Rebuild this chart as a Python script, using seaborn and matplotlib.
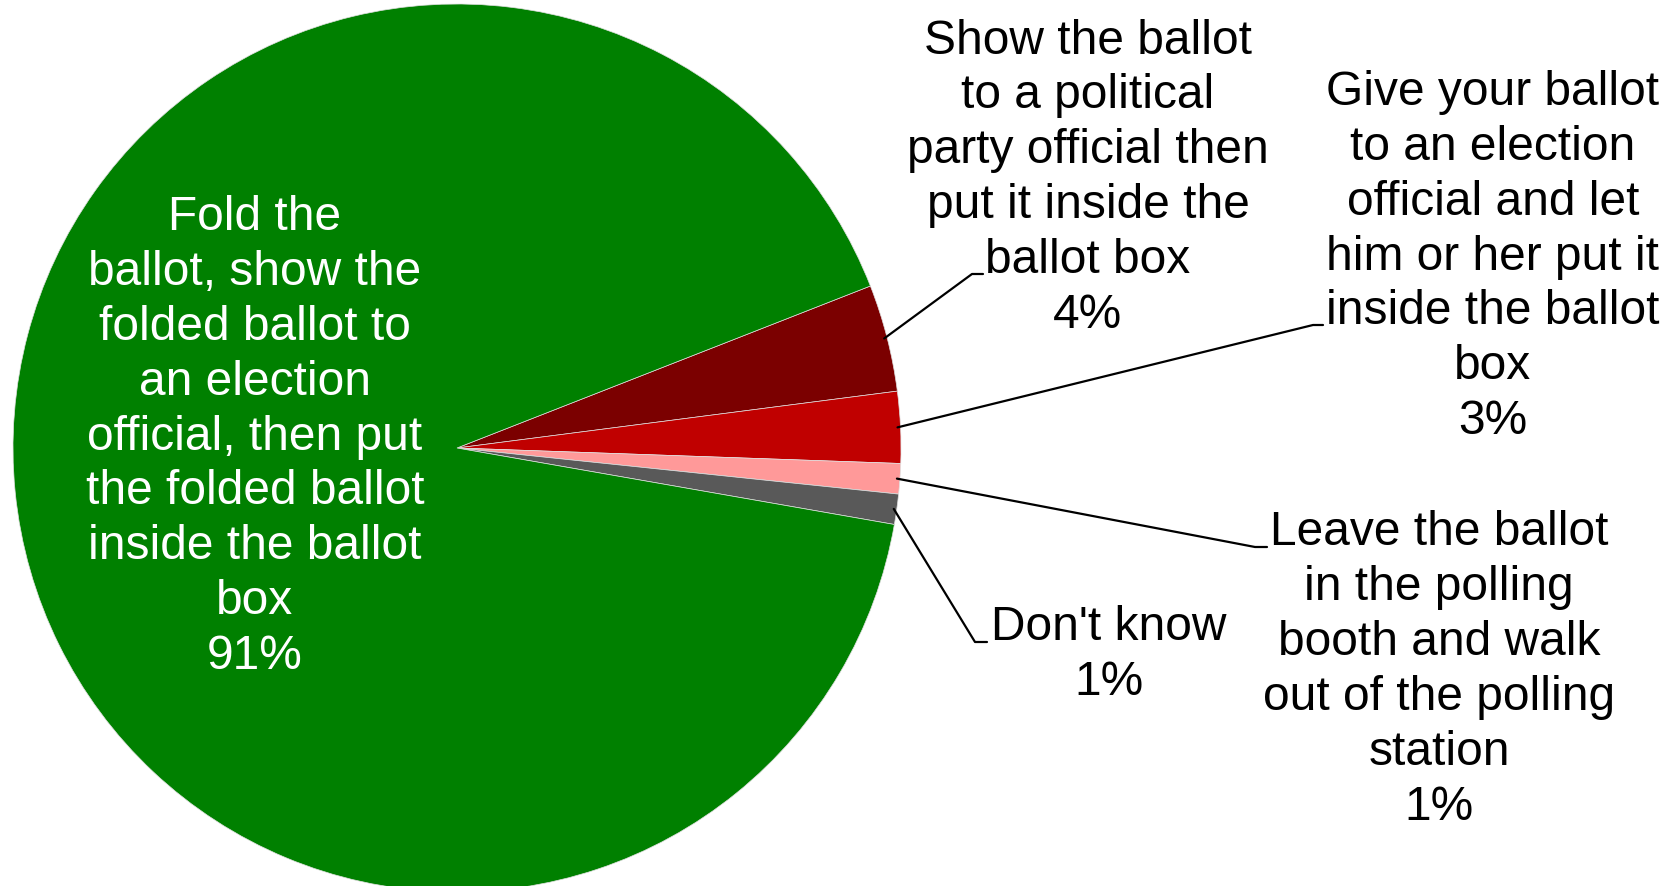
import matplotlib
matplotlib.use("Agg")
import matplotlib.pyplot as plt
import seaborn as sns
import numpy as np

# answer categories, clockwise from the top of the small slices
categories = [
    "Show the ballot\nto a political\nparty official then\nput it inside the\nballot box",
    "Give your ballot\nto an election\nofficial and let\nhim or her put it\ninside the ballot\nbox",
    "Leave the ballot\nin the polling\nbooth and walk\nout of the polling\nstation",
    "Don't know",
    "Fold the\nballot, show the\nfolded ballot to\nan election\nofficial, then put\nthe folded ballot\ninside the ballot\nbox",
]
shares = [3.9, 2.6, 1.1, 1.1, 91.3]
colors = ["#7B0000", "#C00000", "#FF9999", "#595959", "#008000"]

sns.set_theme(style="white")
plt.rcParams["font.family"] = ["Liberation Sans", "DejaVu Sans"]

W, H = 1678, 887
fig = plt.figure(figsize=(W / 100, H / 100), dpi=100)
ax = fig.add_axes([0, 0, 1, 1])

cx, cy, r = 457, H - 449, 444
wedges, _ = ax.pie(shares, colors=colors, startangle=21.4, counterclock=False,
                   center=(cx, cy), radius=r, frame=True,
                   wedgeprops=dict(edgecolor="#e0e0e0", linewidth=0.5))
ax.set_xlim(0, W)
ax.set_ylim(0, H)
ax.axis("off")

# label layout (pixel coords, y from top): text centre, elbow, elbow end
layout = [
    dict(text=(1088, 178), elbow=[(972, 275), (983, 275)]),
    dict(text=(1493, 257), elbow=[(1313, 326), (1323, 326)]),
    dict(text=(1439, 670), elbow=[(1255, 548), (1267, 548)]),
    dict(text=(1109, 655), elbow=[(975, 643), (987, 643)]),
    dict(text=(255, 437), elbow=None),
]

for w, cat, val, lay in zip(wedges, categories, shares, layout):
    label = f"{cat}\n{round(val)}%"
    tx, ty = lay["text"]
    col = "white" if lay["elbow"] is None else "black"
    ax.text(tx, H - ty, label, ha="center", va="center", multialignment="center",
            fontsize=34.5, color=col, linespacing=1.28)
    if lay["elbow"] is not None:
        mid = np.deg2rad((w.theta1 + w.theta2) / 2)
        x0 = cx + (r - 3) * np.cos(mid)
        y0 = cy + (r - 3) * np.sin(mid)
        xs = [x0] + [p[0] for p in lay["elbow"]]
        ys = [y0] + [H - p[1] for p in lay["elbow"]]
        ax.plot(xs, ys, color="black", lw=1.6)

fig.savefig("out.png", dpi=100, facecolor="white")
